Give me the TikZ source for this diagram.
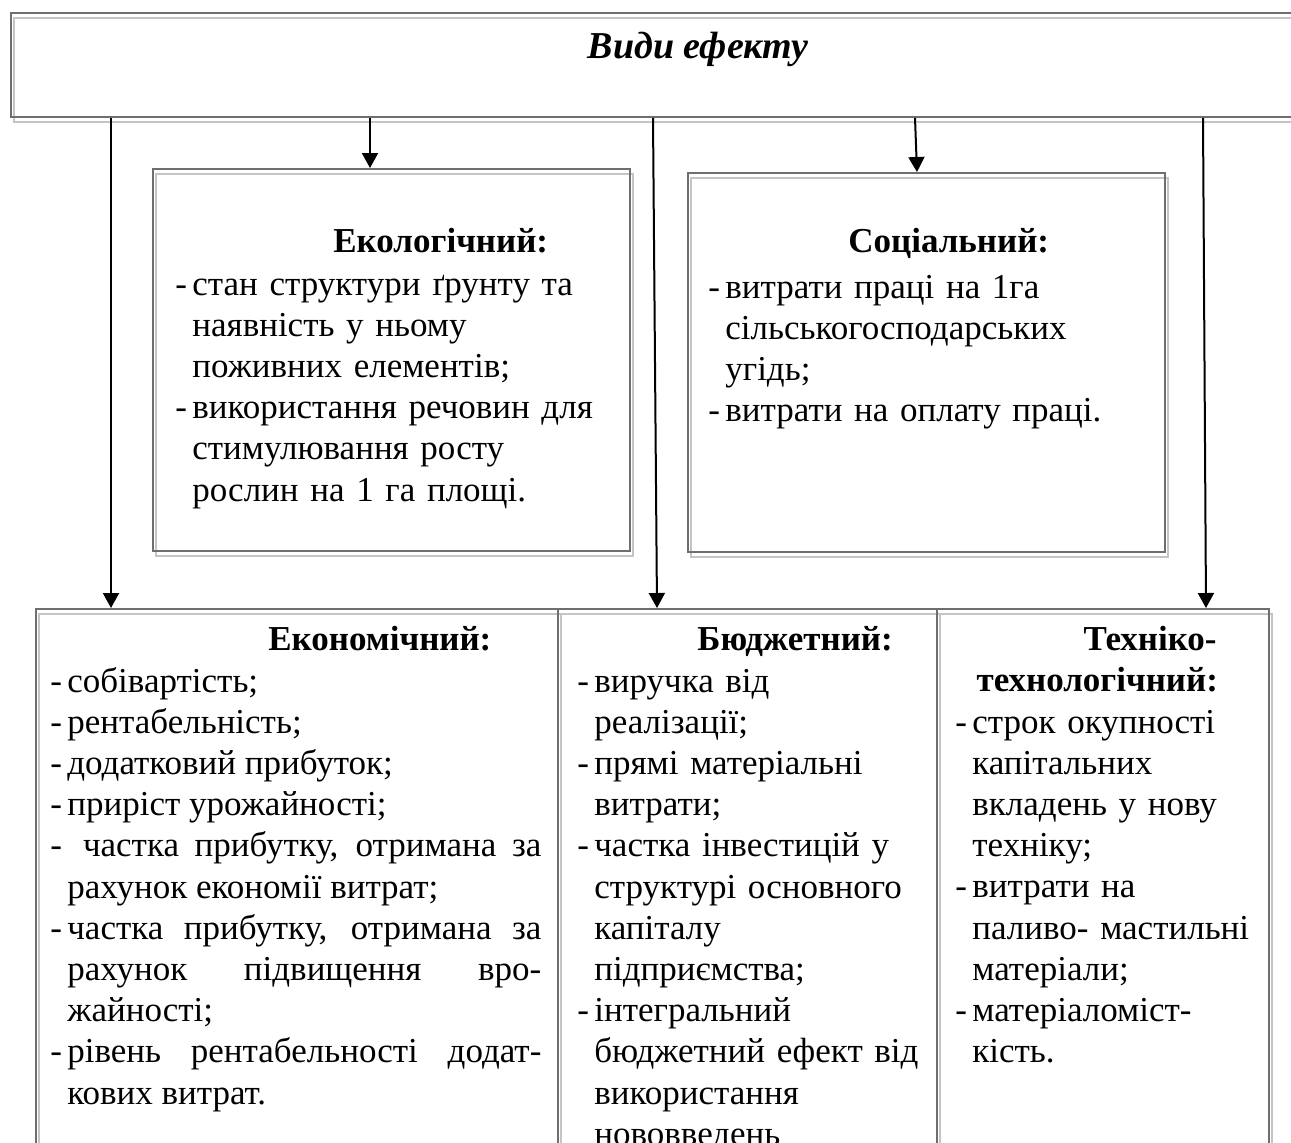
\documentclass[tikz,border=0pt]{standalone}
\usepackage{fontspec}
\setmainfont{Liberation Serif}
\usetikzlibrary{arrows.meta,shadows}

\definecolor{boxdark}{HTML}{6E6E6E}
\definecolor{boxlight}{HTML}{C4C4C4}

% hanging dash item, continuation lines start under the text
\newlength\dashw
\setlength\dashw{8.5pt}
\newcommand\itm[1]{\hangindent=\dashw\hangafter=1\noindent\makebox[\dashw][l]{-}#1\par}
\newcommand\bodyfont{\fontsize{17.5}{20.6}\selectfont}

\begin{document}
\begin{tikzpicture}[
    x=0.5pt, y=-0.5pt,
    frame/.style={rectangle, draw=boxdark, line width=0.9pt, inner sep=0pt, anchor=north west,
      drop shadow={shadow xshift=1.5pt, shadow yshift=-2.5pt, fill=none, draw=boxlight, line width=0.9pt, opacity=1}},
    head/.style={inner sep=0pt, anchor=base west, font=\bodyfont\bfseries},
    items/.style={inner sep=0pt, anchor=base west, align=left, font=\bodyfont},
    arr/.style={line width=1pt, -{Triangle[width=8pt,length=7.5pt]}}
  ]
    \useasboundingbox (0,0) rectangle (1291,1142);
    \clip (0,0) rectangle (1291,1142);

    %--- Frames
    \node[frame, minimum width=650pt, minimum height=52pt] (top) at (10,12) {};
    \node[frame, minimum width=238.5pt, minimum height=191pt] (eco) at (152,168) {};
    \node[frame, minimum width=238.5pt, minimum height=189.5pt] (soc) at (687,172) {};
    \node[frame, minimum width=261pt, minimum height=281pt] (econ) at (35,608) {};
    \node[frame, minimum width=189.5pt, minimum height=281pt] (budg) at (557,608) {};
    \node[frame, minimum width=166pt, minimum height=281pt] (tech) at (936,608) {};

    %--- Title
    \node[inner sep=0pt, anchor=base, font=\fontsize{19}{22}\selectfont\bfseries\itshape] (title) at (698,58) {Види ефекту};

    %--- Upper row
    \node[head] (ecohead) at (333,252) {Екологічний:};
    \node[items, text width=220pt] (ecolist) at (175,295) {%
      \itm{стан структури ґрунту та\newline наявність у ньому\newline поживних елементів;}%
      \itm{використання речовин для\newline стимулювання росту\newline рослин на 1 га площі.}};

    \node[head] (sochead) at (848,252) {Соціальний:};
    \node[items, text width=220pt] (soclist) at (708,298) {%
      \itm{витрати праці на 1га\newline сільськогосподарських\newline угідь;}%
      \itm{витрати на оплату праці.}};

    %--- Lower row
    \node[head] (econhead) at (268,650) {Економічний:};
    \node[items, align=justify, text width=245.5pt] (econlist) at (50,692) {%
      \itm{собівартість;}%
      \itm{рентабельність;}%
      \itm{додатковий прибуток;}%
      \itm{приріст урожайності;}%
      \itm{\ частка прибутку, отримана за\linebreak рахунок економії витрат;}%
      \itm{частка прибутку, отримана за\linebreak рахунок підвищення вро-\linebreak жайності;}%
      \itm{рівень рентабельності додат-\linebreak кових витрат.}};

    \node[head] (budghead) at (697,650) {Бюджетний:};
    \node[items, text width=180pt] (budglist) at (577,692) {%
      \itm{виручка від\newline реалізації;}%
      \itm{прямі матеріальні\newline витрати;}%
      \itm{частка інвестицій у\newline структурі основного\newline капіталу\newline підприємства;}%
      \itm{інтегральний\newline бюджетний ефект від\newline використання\newline нововведень}};

    \node[head, anchor=base east, text width=120pt, align=right] (techhead) at (1217,650) {Техніко-\\технологічний:};
    \node[items, text width=160pt] (techlist) at (955,733) {%
      \itm{строк окупності\newline капітальних\newline вкладень у нову\newline техніку;}%
      \itm{витрати на\newline паливо- мастильні\newline матеріали;}%
      \itm{матеріаломіст-\newline кість.}};

    %--- Connectors from the title frame
    \draw[arr] ([xshift=50.5pt]top.south west) -- ([xshift=38pt]econ.north west);
    \draw[arr] ([xshift=180pt]top.south west) -- ([xshift=109pt]eco.north west);
    \draw[arr] ([xshift=321.5pt]top.south west) -- ([xshift=50pt]budg.north west);
    \draw[arr] ([xshift=452.5pt]top.south west) -- ([xshift=115pt]soc.north west);
    \draw[arr] ([xshift=596.5pt]top.south west) -- ([xshift=135pt]tech.north west);
\end{tikzpicture}
\end{document}
